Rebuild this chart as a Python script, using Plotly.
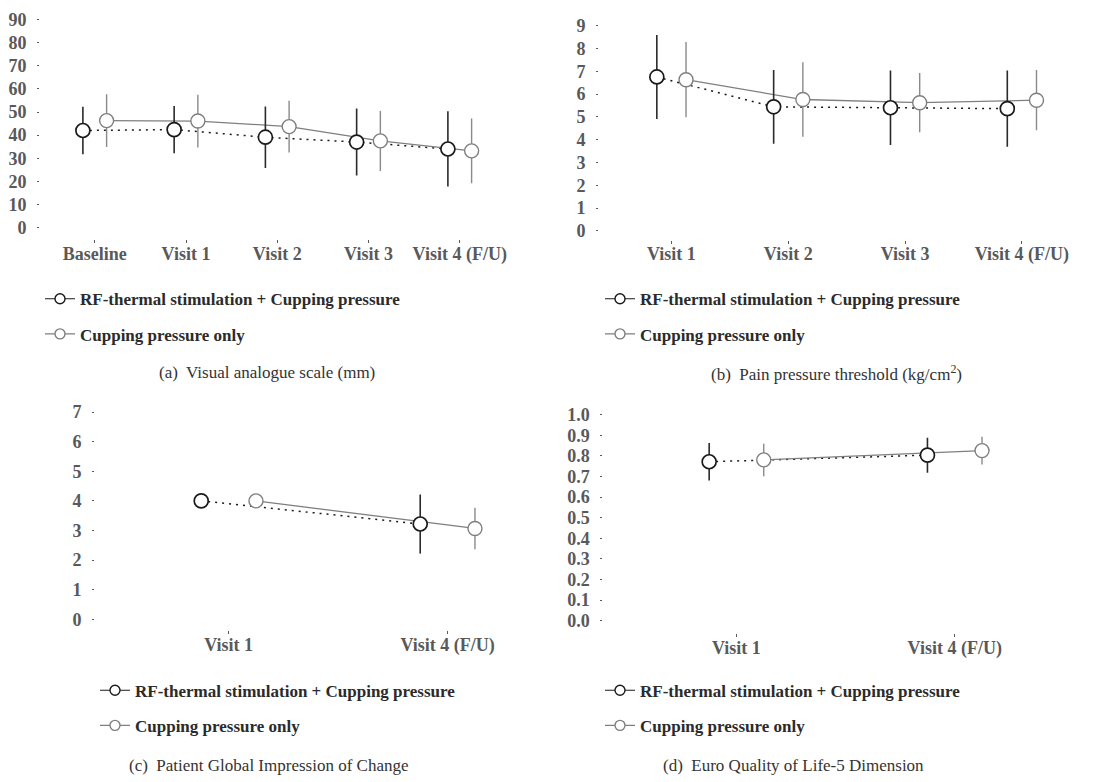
import plotly.graph_objects as go

# ---------------- data ----------------
series_names = ["RF-thermal stimulation + Cupping pressure", "Cupping pressure only"]

vas_cats = ["Baseline", "Visit 1", "Visit 2", "Visit 3", "Visit 4 (F/U)"]
vas_rf_mean = [42.0, 42.4, 39.1, 37.0, 34.0]
vas_rf_sd = [10.3, 10.2, 13.3, 14.5, 16.3]
vas_cp_mean = [46.3, 46.1, 43.7, 37.5, 33.2]
vas_cp_sd = [11.4, 11.4, 11.2, 13.0, 14.0]

ppt_cats = ["Visit 1", "Visit 2", "Visit 3", "Visit 4 (F/U)"]
ppt_rf_mean = [6.75, 5.44, 5.40, 5.36]
ppt_rf_sd = [1.84, 1.62, 1.63, 1.67]
ppt_cp_mean = [6.63, 5.76, 5.62, 5.73]
ppt_cp_sd = [1.65, 1.63, 1.30, 1.32]

pgic_cats = ["Visit 1", "Visit 4 (F/U)"]
pgic_rf_mean = [4.0, 3.22]
pgic_rf_sd = [0.0, 1.0]
pgic_cp_mean = [4.0, 3.07]
pgic_cp_sd = [0.0, 0.70]

eq_cats = ["Visit 1", "Visit 4 (F/U)"]
eq_rf_mean = [0.772, 0.804]
eq_rf_sd = [0.091, 0.085]
eq_cp_mean = [0.781, 0.826]
eq_cp_sd = [0.079, 0.067]

captions = [
    "(a)\u00a0 Visual analogue scale (mm)",
    "(b)\u00a0 Pain pressure threshold (kg/cm<sup>2</sup>)",
    "(c)\u00a0 Patient Global Impression of Change",
    "(d)\u00a0 Euro Quality of Life-5 Dimension",
]

# ---------------- style / layout ----------------
W, H = 1111, 782
FONT = "Liberation Serif"
BLACK = "#1a1a1a"
GRAY = "#7f7f7f"
TICKC = "#595959"

panels = [
    dict(cats=vas_cats, rf=(vas_rf_mean, vas_rf_sd), cp=(vas_cp_mean, vas_cp_sd),
         xpx=(40, 514.5), ypx=(10, 237), xr=[-0.6, 4.6], yr=[-5.2, 92.5],
         dtick=10, fmt="d", off=0.13, leg=(40, 279), cap=(267, 371)),
    dict(cats=ppt_cats, rf=(ppt_rf_mean, ppt_rf_sd), cp=(ppt_cp_mean, ppt_cp_sd),
         xpx=(599, 1092), ypx=(10.3, 237.3), xr=[-0.62, 3.6], yr=[-0.39, 9.5],
         dtick=1, fmt="d", off=0.125, leg=(600, 279), cap=(836, 371)),
    dict(cats=pgic_cats, rf=(pgic_rf_mean, pgic_rf_sd), cp=(pgic_cp_mean, pgic_cp_sd),
         xpx=(95, 579), ypx=(400, 630), xr=[-0.61, 1.6], yr=[-0.36, 7.36],
         dtick=1, fmt="d", off=0.125, leg=(95, 673), cap=(269, 766)),
    dict(cats=eq_cats, rf=(eq_rf_mean, eq_rf_sd), cp=(eq_cp_mean, eq_cp_sd),
         xpx=(603.3, 1085.7), ypx=(400, 633), xr=[-0.61, 1.6], yr=[-0.06, 1.065],
         dtick=0.1, fmt=".1f", off=0.125, leg=(600, 673), cap=(793, 766)),
]

fig = go.Figure()
layout = dict(
    width=W, height=H, margin=dict(l=0, r=0, t=0, b=0),
    paper_bgcolor="white", plot_bgcolor="white",
    font=dict(family=FONT, color="#2b2b2b"),
    annotations=[],
)

for i, p in enumerate(panels):
    n = i + 1
    xa = "x" if n == 1 else f"x{n}"
    ya = "y" if n == 1 else f"y{n}"
    xkey = "xaxis" if n == 1 else f"xaxis{n}"
    ykey = "yaxis" if n == 1 else f"yaxis{n}"
    lkey = "legend" if n == 1 else f"legend{n}"
    idx = list(range(len(p["cats"])))
    x_rf = [k - p["off"] for k in idx]
    x_cp = [k + p["off"] for k in idx]

    # lines first
    fig.add_trace(go.Scatter(x=x_rf, y=p["rf"][0], mode="lines", xaxis=xa, yaxis=ya,
                             line=dict(color=BLACK, width=1.5, dash="2px,5px"),
                             showlegend=False, hoverinfo="skip"))
    fig.add_trace(go.Scatter(x=x_cp, y=p["cp"][0], mode="lines", xaxis=xa, yaxis=ya,
                             line=dict(color=GRAY, width=1.3),
                             showlegend=False, hoverinfo="skip"))
    # markers + error bars
    fig.add_trace(go.Scatter(x=x_rf, y=p["rf"][0], mode="markers", xaxis=xa, yaxis=ya,
                             name=series_names[0],
                             error_y=dict(type="data", array=p["rf"][1], visible=True,
                                          color="#2a2a2a", thickness=1.6, width=0),
                             marker=dict(size=14, color="white",
                                         line=dict(color=BLACK, width=1.7)),
                             showlegend=False))
    fig.add_trace(go.Scatter(x=x_cp, y=p["cp"][0], mode="markers", xaxis=xa, yaxis=ya,
                             name=series_names[1],
                             error_y=dict(type="data", array=p["cp"][1], visible=True,
                                          color="#8a8a8a", thickness=1.4, width=0),
                             marker=dict(size=14, color="white",
                                         line=dict(color=GRAY, width=1.4)),
                             showlegend=False))
    # legend entries
    for s, col in enumerate([BLACK, GRAY]):
        fig.add_trace(go.Scatter(x=[None], y=[None], mode="lines+markers",
                                 xaxis=xa, yaxis=ya, name=series_names[s],
                                 legend=lkey, legendgroup=f"g{n}{s}",
                                 line=dict(color=col, width=1.2),
                                 marker=dict(size=10, color="white",
                                             line=dict(color=col, width=1.4))))

    layout[xkey] = dict(
        domain=[p["xpx"][0] / W, p["xpx"][1] / W], anchor=ya, range=p["xr"],
        tickmode="array", tickvals=idx, ticktext=p["cats"],
        showgrid=False, zeroline=False, showline=False,
        ticks="outside", ticklen=3, tickwidth=1, tickcolor=TICKC,
        ticklabelstandoff=-5,
        tickfont=dict(family=FONT, size=18, color=TICKC, weight="bold"),
        fixedrange=True,
    )
    layout[ykey] = dict(
        domain=[1 - p["ypx"][1] / H, 1 - p["ypx"][0] / H], anchor=xa, range=p["yr"],
        tick0=0, dtick=p["dtick"], tickformat=p["fmt"],
        showgrid=False, zeroline=False, showline=False,
        ticks="outside", ticklen=2, tickwidth=1, tickcolor=TICKC,
        ticklabelstandoff=7,
        tickfont=dict(family=FONT, size=18, color=TICKC, weight="bold"),
        fixedrange=True,
    )
    layout[lkey] = dict(
        x=p["leg"][0] / W, y=1 - p["leg"][1] / H, xanchor="left", yanchor="top",
        xref="paper", yref="paper", bgcolor="rgba(0,0,0,0)", borderwidth=0,
        traceorder="grouped", tracegroupgap=10, itemwidth=30,
        font=dict(family=FONT, size=17, color="#2b2b2b", weight="bold"),
    )
    layout["annotations"].append(dict(
        x=p["cap"][0] / W, y=1 - p["cap"][1] / H, xref="paper", yref="paper",
        text=captions[i], showarrow=False, xanchor="center", yanchor="middle",
        font=dict(family=FONT, size=17, color="#333333"),
    ))

fig.update_layout(**layout)
fig.write_html("out.html", config={"displayModeBar": False},
               post_script="document.body.style.margin='0';document.body.style.overflow='hidden';")
